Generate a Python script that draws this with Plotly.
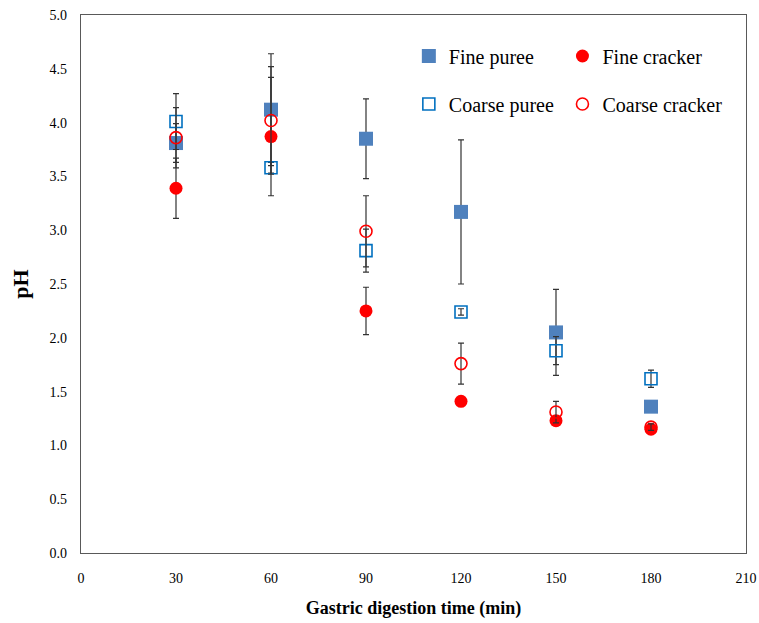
import plotly.graph_objects as go

time_min = [30, 60, 90, 120, 150, 180]

fine_puree = [3.81, 4.12, 3.85, 3.17, 2.05, 1.36]
fine_puree_err = [0.18, 0.52, 0.37, 0.67, 0.40, 0.04]

fine_cracker = [3.39, 3.87, 2.25, 1.41, 1.23, 1.15]
fine_cracker_err = [0.28, 0.55, 0.22, 0.03, 0.03, 0.02]

coarse_puree = [4.01, 3.58, 2.81, 2.24, 1.88, 1.62]
coarse_puree_err = [0.26, 0.05, 0.20, 0.03, 0.13, 0.08]

coarse_cracker = [3.86, 4.02, 2.99, 1.76, 1.31, 1.17]
coarse_cracker_err = [0.28, 0.50, 0.33, 0.19, 0.10, 0.03]

x_ticks = [0, 30, 60, 90, 120, 150, 180, 210]
y_ticks = [0.0, 0.5, 1.0, 1.5, 2.0, 2.5, 3.0, 3.5, 4.0, 4.5, 5.0]

FONT = "'Liberation Serif', 'Times New Roman', 'DejaVu Serif', serif"
ERR = dict(type="data", thickness=1.2, width=3, color="#333333")

fig = go.Figure()

fig.add_trace(go.Scatter(
    x=time_min, y=fine_puree, name="Fine puree", mode="markers",
    error_y=dict(array=fine_puree_err, **ERR),
    marker=dict(symbol="square", size=14, color="#4F81BD"),
    legend="legend", legendgroup="fp"))

fig.add_trace(go.Scatter(
    x=time_min, y=coarse_puree, name="Coarse puree", mode="markers",
    error_y=dict(array=coarse_puree_err, **ERR),
    marker=dict(symbol="square-open", size=12, color="#0070C0", line=dict(width=1.6)),
    legend="legend", legendgroup="cp"))

fig.add_trace(go.Scatter(
    x=time_min, y=fine_cracker, name="Fine cracker", mode="markers",
    error_y=dict(array=fine_cracker_err, **ERR),
    marker=dict(symbol="circle", size=13, color="#FF0000"),
    legend="legend2", legendgroup="fc"))

fig.add_trace(go.Scatter(
    x=time_min, y=coarse_cracker, name="Coarse cracker", mode="markers",
    error_y=dict(array=coarse_cracker_err, **ERR),
    marker=dict(symbol="circle-open", size=12, color="#FF0000", line=dict(width=1.6)),
    legend="legend2", legendgroup="cc"))

legend_common = dict(
    font=dict(family=FONT, size=20, color="#000000"),
    bgcolor="rgba(0,0,0,0)", tracegroupgap=19,
    yanchor="top", xanchor="left", traceorder="grouped",
)

fig.update_layout(
    width=759, height=623,
    margin=dict(l=81, r=13, t=15, b=70),
    paper_bgcolor="white", plot_bgcolor="white",
    font=dict(family=FONT, color="#000000"),
    showlegend=True,
    legend=dict(x=0.493, y=0.96, **legend_common),
    legend2=dict(x=0.724, y=0.96, **legend_common),
    xaxis=dict(
        range=[0, 210], tickvals=x_ticks, ticktext=[str(v) for v in x_ticks],
        showgrid=False, zeroline=False, showline=True, mirror=True,
        linecolor="#595959", linewidth=1.3, ticks="", automargin=False,
        tickfont=dict(family=FONT, size=14, color="#000000"),
        ticklabelstandoff=12,
        title=dict(text="<b>Gastric digestion time (min)</b>",
                   font=dict(family=FONT, size=18, color="#000000"), standoff=16),
    ),
    yaxis=dict(
        range=[0, 5], tickvals=y_ticks, ticktext=[f"{v:.1f}" for v in y_ticks],
        showgrid=False, zeroline=False, showline=True, mirror=True,
        linecolor="#595959", linewidth=1.3, ticks="", automargin=False,
        tickfont=dict(family=FONT, size=14, color="#000000"),
        ticklabelstandoff=10,
        title=dict(text="<b>pH</b>",
                   font=dict(family=FONT, size=22, color="#000000"), standoff=14),
    ),
)

fig.write_html("out.html")
